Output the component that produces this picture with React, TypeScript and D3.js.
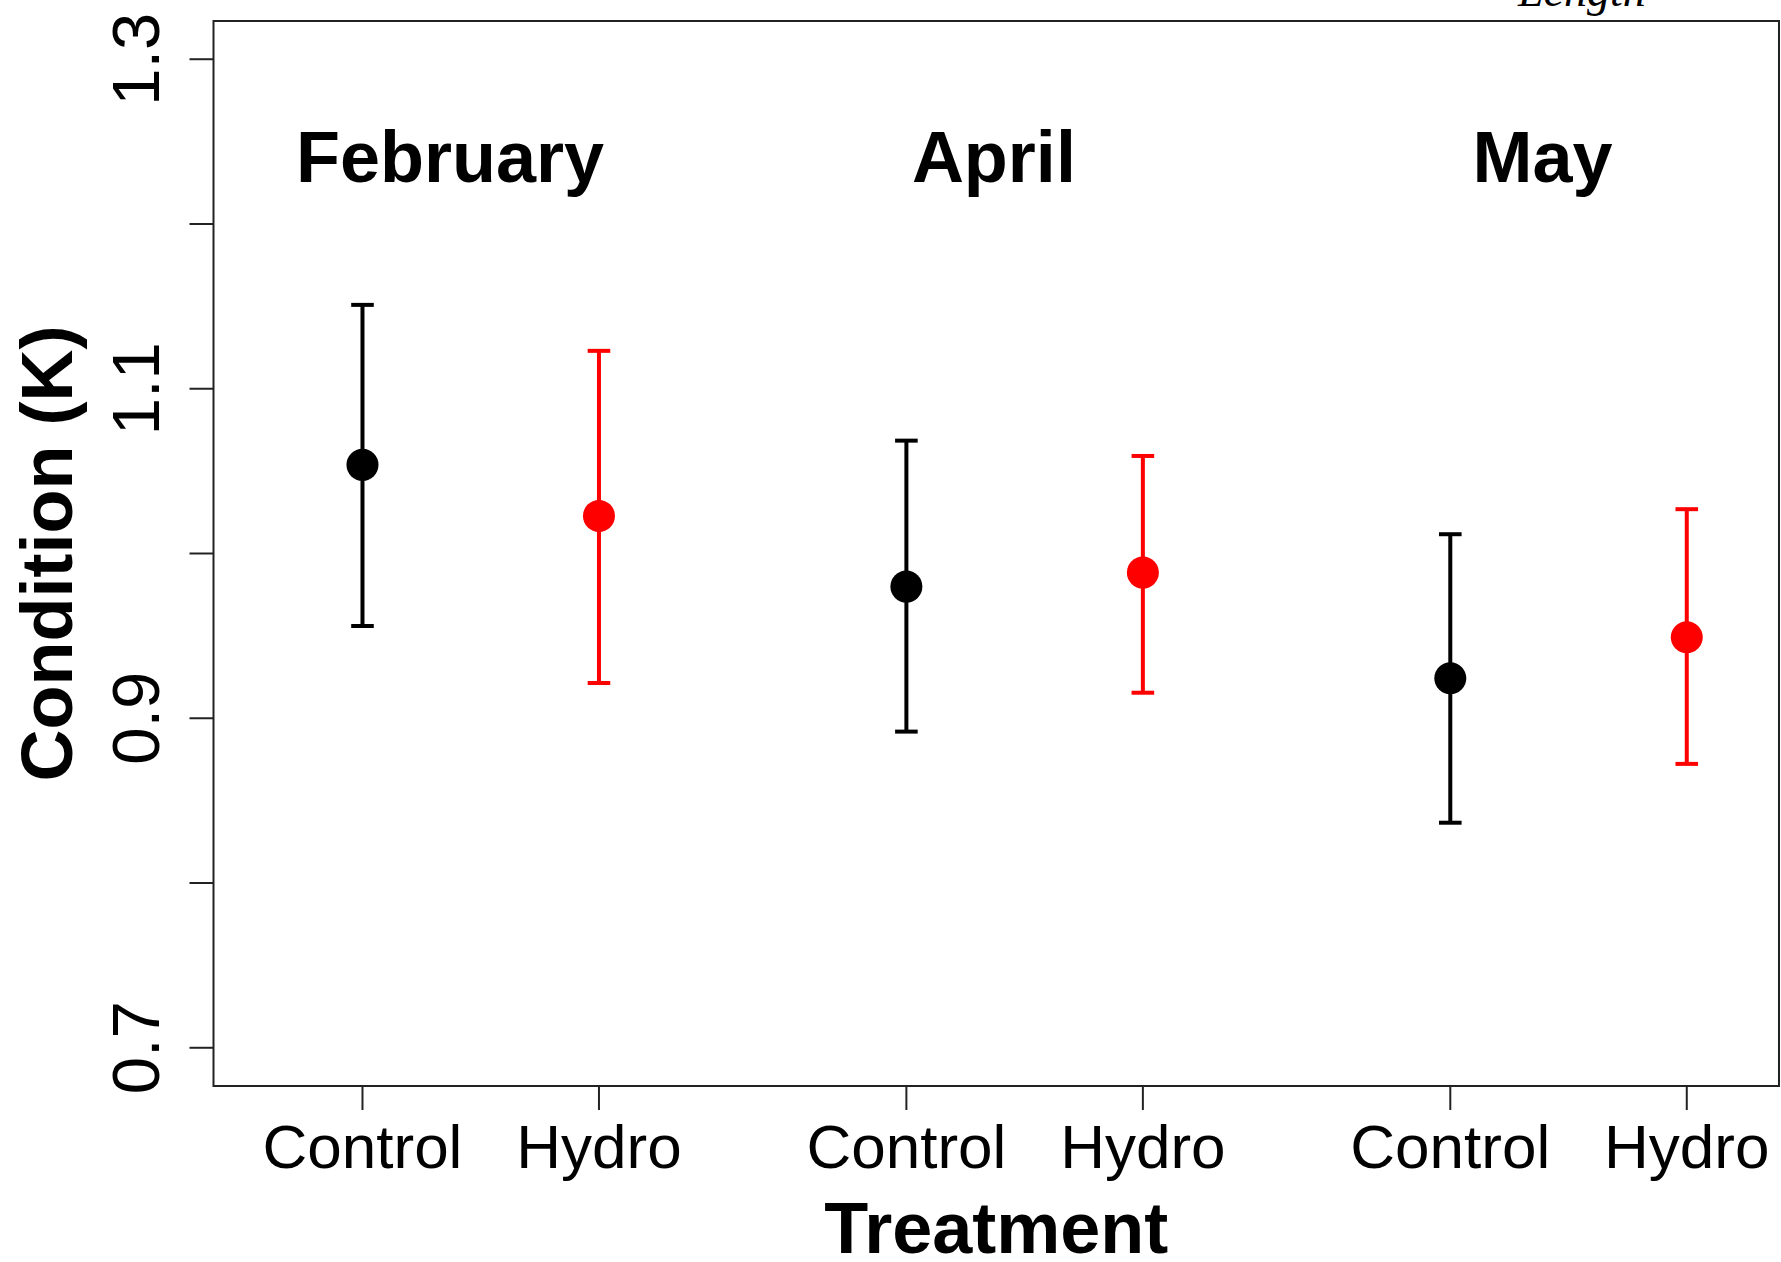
import React from "react";
import * as d3 from "d3";

// Treatment groups along the x axis (numeric positions leave a gap between months)
const treatments = ["Control", "Hydro", "Control", "Hydro", "Control", "Hydro"];
const xPositions = [1, 2, 3.3, 4.3, 5.6, 6.6];
const groupColors = ["black", "red", "black", "red", "black", "red"];

// Mean condition factor and error-bar limits for each group
const means = [1.0538, 1.0228, 0.9799, 0.9884, 0.9243, 0.9492];
const lowers = [0.956, 0.9214, 0.8919, 0.9155, 0.8366, 0.8723];
const uppers = [1.1509, 1.123, 1.0685, 1.0592, 1.0117, 1.0269];

// Month headings and their x positions
const months = ["February", "April", "May"];
const monthX = [1.37, 3.67, 5.99];

// Y axis ticks and labelled values
const yTicks = [0.7, 0.8, 0.9, 1.0, 1.1, 1.2, 1.3];
const yLabels = ["0.7", "0.9", "1.1", "1.3"];

const W = 1781;
const H = 1262;
const plot = { left: 213.5, right: 1779, top: 21, bottom: 1086 };

export default function App() {
  const x = d3.scaleLinear().domain([0.37, 6.99]).range([plot.left, plot.right]);
  const y = d3.scaleLinear().domain([0.6768, 1.3232]).range([plot.bottom, plot.top]);

  const sans = "'Liberation Sans', Arial, sans-serif";
  const capHalf = 11.3;

  return (
    <svg
      width={W}
      height={H}
      style={{ position: "absolute", left: 0, top: 0, background: "white" }}
    >
      <rect x={0} y={0} width={W} height={H} fill="white" />

      {/* partly clipped annotation above the panel */}
      <text
        x={1518}
        y={6}
        fontFamily="'Liberation Serif', 'Times New Roman', serif"
        fontStyle="italic"
        fontSize={46}
        fill="black"
      >
        Length
      </text>

      {/* plot frame */}
      <rect
        x={plot.left}
        y={plot.top}
        width={plot.right - plot.left}
        height={plot.bottom - plot.top}
        fill="none"
        stroke="#222"
        strokeWidth={2}
      />

      {/* y axis ticks */}
      {yTicks.map((t) => (
        <line
          key={`yt${t}`}
          x1={plot.left - 24}
          x2={plot.left}
          y1={y(t)}
          y2={y(t)}
          stroke="#222"
          strokeWidth={2}
        />
      ))}
      {yLabels.map((l) => (
        <text
          key={`yl${l}`}
          transform={`translate(159,${y(+l)}) rotate(-90)`}
          textAnchor="middle"
          fontFamily={sans}
          fontSize={67}
          fill="black"
        >
          {l}
        </text>
      ))}

      {/* x axis ticks and labels */}
      {xPositions.map((p, i) => (
        <g key={`xt${i}`}>
          <line
            x1={x(p)}
            x2={x(p)}
            y1={plot.bottom}
            y2={plot.bottom + 24}
            stroke="#222"
            strokeWidth={2}
          />
          <text
            x={x(p)}
            y={1168}
            textAnchor="middle"
            fontFamily={sans}
            fontSize={62}
            fill="black"
          >
            {treatments[i]}
          </text>
        </g>
      ))}

      {/* axis titles */}
      <text
        transform={`translate(72,${(plot.top + plot.bottom) / 2}) rotate(-90)`}
        textAnchor="middle"
        fontFamily={sans}
        fontWeight="bold"
        fontSize={72}
        fill="black"
      >
        Condition (K)
      </text>
      <text
        x={(plot.left + plot.right) / 2}
        y={1253}
        textAnchor="middle"
        fontFamily={sans}
        fontWeight="bold"
        fontSize={72}
        fill="black"
      >
        Treatment
      </text>

      {/* month headings */}
      {months.map((m, i) => (
        <text
          key={m}
          x={x(monthX[i])}
          y={182}
          textAnchor="middle"
          fontFamily={sans}
          fontWeight="bold"
          fontSize={72}
          fill="black"
        >
          {m}
        </text>
      ))}

      {/* error bars and means */}
      {xPositions.map((p, i) => {
        const cx = x(p);
        const c = groupColors[i];
        return (
          <g key={`pt${i}`}>
            <line x1={cx} x2={cx} y1={y(lowers[i])} y2={y(uppers[i])} stroke={c} strokeWidth={4} />
            <line x1={cx - capHalf} x2={cx + capHalf} y1={y(uppers[i])} y2={y(uppers[i])} stroke={c} strokeWidth={4} />
            <line x1={cx - capHalf} x2={cx + capHalf} y1={y(lowers[i])} y2={y(lowers[i])} stroke={c} strokeWidth={4} />
            <circle cx={cx} cy={y(means[i])} r={16} fill={c} />
          </g>
        );
      })}
    </svg>
  );
}
